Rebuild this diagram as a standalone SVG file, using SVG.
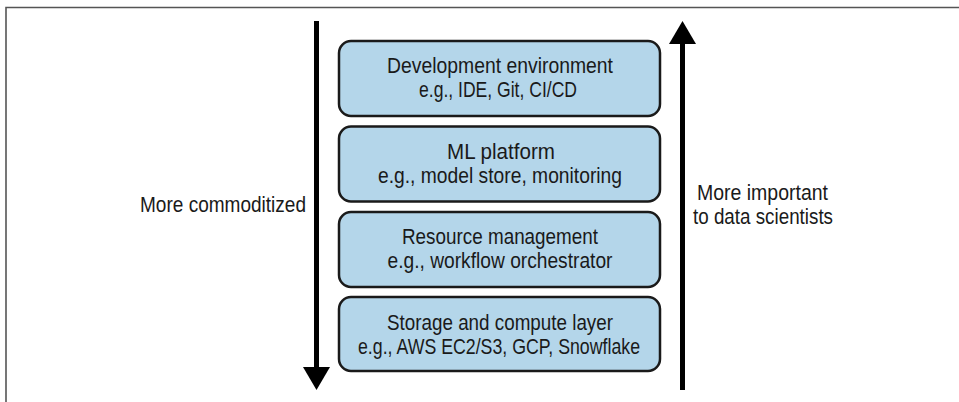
<svg xmlns="http://www.w3.org/2000/svg" width="959" height="402" viewBox="0 0 959 402">
<style>
.box{fill:#b4d6ea;stroke:#1a1a1a;stroke-width:2.5}
.t{font-family:"Liberation Sans",Arial,sans-serif;font-size:21.5px;fill:#1a1a1a}
.c{text-anchor:middle}
.shaft{stroke:#000;stroke-width:5;fill:none}
.head{fill:#000}
.frame{stroke:#555;stroke-width:1.6;fill:none}
</style>
<rect width="959" height="402" fill="#fff"/>
<path class="frame" d="M6,402 V7.5 H959"/>
<g id="layer-dev">
<rect class="box" x="339" y="41" width="321" height="75" rx="12"/>
<text class="t c" x="500" y="73" textLength="226" lengthAdjust="spacingAndGlyphs">Development environment</text>
<text class="t c" x="498" y="97" textLength="158" lengthAdjust="spacingAndGlyphs">e.g., IDE, Git, CI/CD</text>
</g>
<g id="layer-ml">
<rect class="box" x="339" y="126.5" width="321" height="75" rx="12"/>
<text class="t c" x="501" y="159" textLength="108" lengthAdjust="spacingAndGlyphs">ML platform</text>
<text class="t c" x="500" y="183" textLength="244" lengthAdjust="spacingAndGlyphs">e.g., model store, monitoring</text>
</g>
<g id="layer-resource">
<rect class="box" x="339" y="212" width="321" height="75" rx="12"/>
<text class="t c" x="500" y="244" textLength="196" lengthAdjust="spacingAndGlyphs">Resource management</text>
<text class="t c" x="500" y="268" textLength="225" lengthAdjust="spacingAndGlyphs">e.g., workflow orchestrator</text>
</g>
<g id="layer-storage">
<rect class="box" x="339" y="297" width="321" height="74" rx="12"/>
<text class="t c" x="500" y="330" textLength="226" lengthAdjust="spacingAndGlyphs">Storage and compute layer</text>
<text class="t c" x="499" y="354" textLength="282" lengthAdjust="spacingAndGlyphs">e.g., AWS EC2/S3, GCP, Snowflake</text>
</g>
<g id="connectors">
<line class="shaft" x1="316.5" y1="21" x2="316.5" y2="370"/>
<polygon class="head" points="303,367 330,367 316.5,390"/>
<line class="shaft" x1="682.5" y1="40" x2="682.5" y2="390"/>
<polygon class="head" points="669,44 696,44 682.5,21"/>
</g>
<g id="label-left">
<text class="t" x="140" y="212" textLength="166" lengthAdjust="spacingAndGlyphs">More commoditized</text>
</g>
<g id="label-right">
<text class="t" x="697" y="200" textLength="131" lengthAdjust="spacingAndGlyphs">More important</text>
<text class="t" x="693" y="224" textLength="140" lengthAdjust="spacingAndGlyphs">to data scientists</text>
</g>
</svg>
